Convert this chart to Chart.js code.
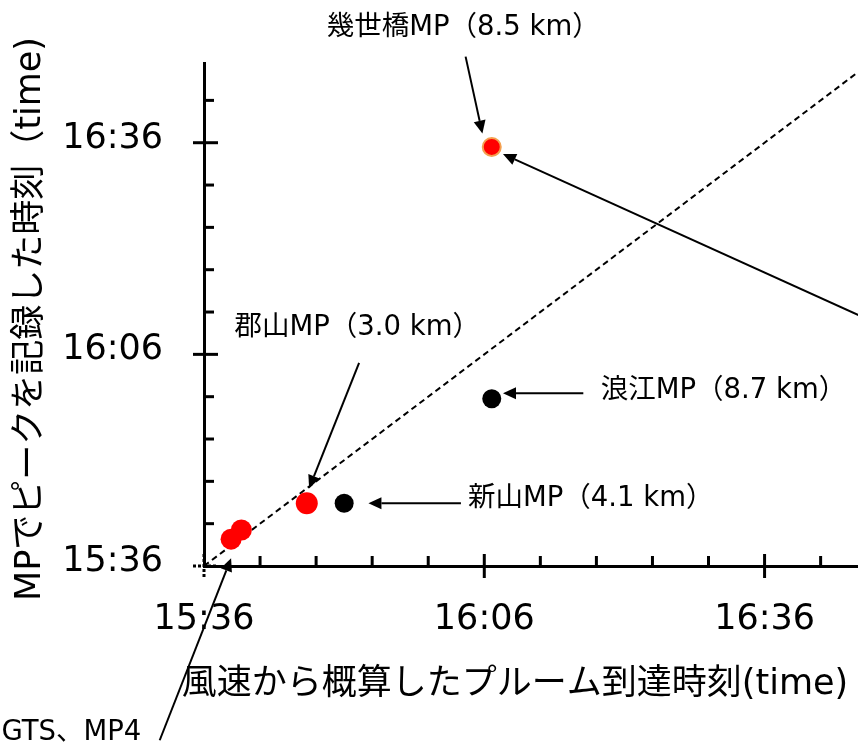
<!DOCTYPE html>
<html lang="ja">
<head>
<meta charset="utf-8">
<title>MPでピークを記録した時刻</title>
<script src="https://cdn.jsdelivr.net/npm/chart.js@4.4.1/dist/chart.umd.min.js"></script>
<style>
    body { margin: 0; background: #fff; }
    canvas { display: block; }
</style>
</head>
<body>
<canvas id="myChart" width="858" height="744"></canvas>
<script>
// tiempos en minutos desde las 00:00 (15:36 = 936)
const estaciones = ['GTS', 'MP4', '郡山MP', '新山MP', '浪江MP', '幾世橋MP'];
const llegadaEstimada = [938.9, 940.0, 947.0, 951.0, 966.8, 966.8];
const picoRegistrado = [939.8, 941.1, 944.9, 944.9, 959.7, 995.4];
const grupo = ['rojo', 'rojo', 'rojo', 'negro', 'negro', 'naranja'];

const diagonal = [936, 1010];

const ticksMayores = [936, 966, 996];
const ticksMenores = [942, 948, 954, 960, 972, 978, 984, 990, 1002];
const etiquetasTicks = ['15:36', '16:06', '16:36'];

const tituloX = '風速から概算したプルーム到達時刻(time)';
const tituloY = 'MPでピークを記録した時刻（time)';

// etiquetas y flechas, en las mismas unidades que los ejes
const textos = ['幾世橋MP（8.5 km）', '郡山MP（3.0 km）', '浪江MP（8.7 km）', '新山MP（4.1 km）', 'GTS、MP4'];
const textoX = [963.75, 952.4, 991.6, 977.4, 921.8];
const textoY = [1012.3, 969.8, 960.8, 945.5, 912.3];
const flechaDesde = [[964.0, 1008.2], [1007.0, 971.0], [952.6, 964.8], [963.5, 944.9], [976.6, 960.5], [931.26, 911.3]];
const flechaHasta = [[965.8, 997.3], [968.0, 994.4], [947.25, 947.0], [953.6, 944.9], [968.0, 960.5], [938.9, 937.1]];

const fuente = '"DejaVu Sans", "Noto Sans CJK JP", sans-serif';

function puntosDe(nombre) {
    const puntos = [];
    for (let i = 0; i < estaciones.length; i++) {
        if (grupo[i] === nombre) {
            puntos.push({ x: llegadaEstimada[i], y: picoRegistrado[i] });
        }
    }
    return puntos;
}

function linea(ctx, x1, y1, x2, y2) {
    ctx.beginPath();
    ctx.moveTo(x1, y1);
    ctx.lineTo(x2, y2);
    ctx.stroke();
}

function flecha(ctx, x1, y1, x2, y2) {
    const ang = Math.atan2(y2 - y1, x2 - x1);
    const largo = 13;
    const ancho = 6;
    const bx = x2 - Math.cos(ang) * largo;
    const by = y2 - Math.sin(ang) * largo;
    linea(ctx, x1, y1, bx, by);
    ctx.beginPath();
    ctx.moveTo(x2, y2);
    ctx.lineTo(bx + Math.sin(ang) * ancho, by - Math.cos(ang) * ancho);
    ctx.lineTo(bx - Math.sin(ang) * ancho, by + Math.cos(ang) * ancho);
    ctx.closePath();
    ctx.fill();
}

const anotaciones = {
    id: 'anotaciones',
    afterDraw: function(chart) {
        const ctx = chart.ctx;
        const ejeX = chart.scales.x;
        const ejeY = chart.scales.y;
        const area = chart.chartArea;

        ctx.save();
        ctx.strokeStyle = '#000';
        ctx.fillStyle = '#000';

        // marcas de los ejes
        ctx.lineWidth = 3;
        ticksMayores.forEach(function(v, i) {
            ctx.setLineDash(i === 0 ? [3, 2] : []);
            const px = ejeX.getPixelForValue(v);
            linea(ctx, px, area.bottom - 12, px, area.bottom + 12);
            const py = ejeY.getPixelForValue(v);
            linea(ctx, area.left - 11, py, area.left + 14, py);
        });
        ctx.setLineDash([]);
        ticksMenores.forEach(function(v) {
            const px = ejeX.getPixelForValue(v);
            linea(ctx, px, area.bottom - 10, px, area.bottom);
            const py = ejeY.getPixelForValue(v);
            linea(ctx, area.left, py, area.left + 10, py);
        });

        // flechas
        ctx.lineWidth = 2;
        for (let i = 0; i < flechaDesde.length; i++) {
            flecha(ctx,
                ejeX.getPixelForValue(flechaDesde[i][0]), ejeY.getPixelForValue(flechaDesde[i][1]),
                ejeX.getPixelForValue(flechaHasta[i][0]), ejeY.getPixelForValue(flechaHasta[i][1]));
        }

        // etiquetas
        ctx.font = '27.5px ' + fuente;
        ctx.textAlign = 'center';
        ctx.textBaseline = 'middle';
        for (let i = 0; i < textos.length; i++) {
            ctx.fillText(textos[i], ejeX.getPixelForValue(textoX[i]), ejeY.getPixelForValue(textoY[i]));
        }

        // titulos de los ejes
        ctx.font = '35px ' + fuente;
        ctx.fillText(tituloX, 515, 685);
        ctx.translate(31, 319);
        ctx.rotate(-Math.PI / 2);
        ctx.font = '35px ' + fuente;
        ctx.fillText(tituloY, 0, 0);

        ctx.restore();
    }
};

const ctx = document.getElementById('myChart').getContext('2d');

const chart = new Chart(ctx, {
    type: 'scatter',
    data: {
        datasets: [
            {
                label: 'diagonal',
                data: diagonal.map(function(v) { return { x: v, y: v }; }),
                showLine: true,
                borderColor: '#000',
                borderWidth: 2,
                borderDash: [6, 4],
                pointRadius: 0,
                order: 10
            },
            {
                label: 'rojo',
                data: puntosDe('rojo'),
                pointRadius: [10.5, 10.5, 11],
                pointBackgroundColor: '#ff0000',
                pointBorderWidth: 0,
                order: 1
            },
            {
                label: 'negro',
                data: puntosDe('negro'),
                pointRadius: 9.5,
                pointBackgroundColor: '#000',
                pointBorderWidth: 0,
                order: 1
            },
            {
                label: 'naranja',
                data: puntosDe('naranja'),
                pointRadius: 9,
                pointBackgroundColor: '#ff0000',
                pointBorderColor: 'rgb(244, 160, 80)',
                pointBorderWidth: 2,
                order: 1
            }
        ]
    },
    options: {
        responsive: false,
        devicePixelRatio: 1,
        animation: false,
        events: [],
        layout: {
            autoPadding: false,
            padding: { top: 63, right: 0, bottom: 0, left: 0 }
        },
        scales: {
            x: {
                type: 'linear',
                min: 936,
                max: 1006,
                afterFit: function(scale) {
                    scale.height = 178;
                    scale.paddingLeft = 0;
                    scale.paddingRight = 0;
                },
                afterBuildTicks: function(scale) {
                    scale.ticks = ticksMayores.map(function(v) { return { value: v }; });
                },
                ticks: {
                    color: '#000',
                    padding: 33,
                    font: { family: fuente, size: 35 },
                    callback: function(value, index) { return etiquetasTicks[index]; }
                },
                grid: { display: false, drawTicks: false },
                border: { display: true, color: '#000', width: 3 }
            },
            y: {
                type: 'linear',
                min: 936,
                max: 1007.3,
                afterFit: function(scale) {
                    scale.width = 204;
                    scale.paddingTop = 0;
                    scale.paddingBottom = 0;
                },
                afterBuildTicks: function(scale) {
                    scale.ticks = ticksMayores.map(function(v) { return { value: v }; });
                },
                ticks: {
                    color: '#000',
                    padding: 41,
                    labelOffset: -4,
                    font: { family: fuente, size: 35 },
                    callback: function(value, index) { return etiquetasTicks[index]; }
                },
                grid: { display: false, drawTicks: false },
                border: { display: true, color: '#000', width: 3 }
            }
        },
        plugins: {
            legend: { display: false },
            tooltip: { enabled: false }
        }
    },
    plugins: [anotaciones]
});
</script>
</body>
</html>
